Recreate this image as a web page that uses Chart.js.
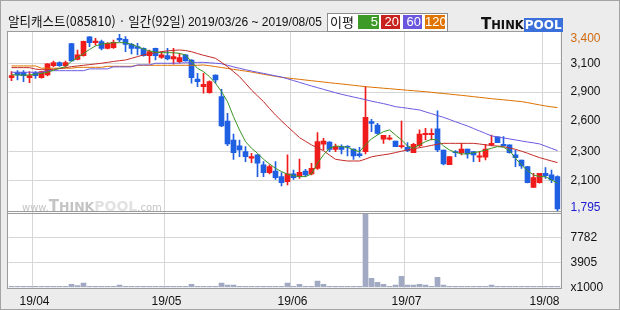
<!DOCTYPE html>
<html><head><meta charset="utf-8">
<script src="https://cdn.jsdelivr.net/npm/chart.js@4.4.1/dist/chart.umd.min.js"></script>
<style>
html,body{margin:0;padding:0;}
body{width:620px;height:310px;background:#ececec;position:relative;overflow:hidden;font-family:"Liberation Sans",Arial,sans-serif;}
#frame{position:absolute;left:0;top:0;width:618px;height:308px;border:1px solid #a4a4a4;pointer-events:none;}
#c{position:absolute;left:0;top:0;}
.ov{position:absolute;white-space:nowrap;}
#title{left:8px;top:12px;font:13px "Noto Sans CJK KR";color:#111;line-height:18px;transform-origin:0 50%;}
#title .d{font:12.5px "Liberation Sans";}
#leg{left:327px;top:13px;width:119px;height:17px;border:1px solid #8c8c8c;background:#fff;}
.lb{position:absolute;top:1px;height:14px;color:#fff;font:13px "Liberation Sans";line-height:14px;text-align:right;padding-right:1px;box-sizing:border-box;}
#logo{left:481px;top:14px;height:15px;font-family:"DejaVu Sans";font-weight:bold;}
#wm{left:22px;top:196px;color:#c4c4c4;font-family:"DejaVu Sans";}
</style></head>
<body>
<canvas id="c" width="620" height="310"></canvas>
<div id="frame"></div>
<div id="title" class="ov">알티캐스트(085810) · 일간(92일) <span class="d">2019/03/26 ~ 2019/08/05</span></div>
<div id="leg" class="ov">
  <span style="position:absolute;left:2px;top:0px;font:13px 'Noto Sans CJK KR';line-height:16px;color:#111;">이평</span>
  <span class="lb" style="left:30px;width:21px;background:#3d9a27;">5</span>
  <span class="lb" style="left:53px;width:19px;background:#c7221d;">20</span>
  <span class="lb" style="left:75px;width:19px;background:#6a57de;">60</span>
  <span class="lb" style="left:97px;width:20px;background:#e07400;">120</span>
</div>
<div id="logo" class="ov"><span style="font-size:15px;color:#111;">T</span><span style="font-size:11.5px;color:#111;">HINK</span><span style="font-size:12px;color:#fff;background:#3b6fd9;padding:0 1px 0 1px;">POOL</span></div>
<div id="wm" class="ov"><span style="font-size:10px;">www.</span><span style="font-size:15px;font-weight:bold;">T</span><span style="font-size:12.5px;font-weight:bold;">HINK</span><span style="font-size:14px;font-weight:bold;color:#e2e2e2;">POOL</span><span style="font-size:10px;">.com</span></div>
<script>
(function(){ const t = document.getElementById('title'); const w = t.getBoundingClientRect().width; if (w > 0) t.style.transform = 'scaleX(' + (314 / w) + ')'; })();
const dates = ['03/26','03/27','03/28','03/29',
 '04/01','04/02','04/03','04/04','04/05','04/08','04/09','04/10','04/11','04/12','04/15','04/16','04/17','04/18','04/19','04/22','04/23','04/24','04/25','04/26','04/29','04/30',
 '05/02','05/03','05/07','05/08','05/09','05/10','05/13','05/14','05/15','05/16','05/17','05/20','05/21','05/22','05/23','05/24','05/27','05/28','05/29','05/30','05/31',
 '06/03','06/04','06/05','06/07','06/10','06/11','06/12','06/13','06/14','06/17','06/18','06/19','06/20','06/21','06/24','06/25','06/26','06/27','06/28',
 '07/01','07/02','07/03','07/04','07/05','07/08','07/09','07/10','07/11','07/12','07/15','07/16','07/17','07/18','07/19','07/22','07/23','07/24','07/25','07/26','07/29','07/30','07/31',
 '08/01','08/02','08/05'];
const opens = [2994,3042,3042,2994,3039,2994,3018,3101,3127,3101,
 3296,3157,3190,3356,3305,3314,3255,3261,3344,3335,
 3290,3270,3255,3190,3255,3175,3190,3160,3136,3196,
 3151,2982,2914,2861,3018,2825,2609,2440,2387,2336,
 2277,2307,2218,2150,2164,2114,2070,2138,2114,2164,
 2138,2188,2402,2422,2357,2381,2381,2360,2316,2336,
 2603,2573,2446,2446,2431,2381,2375,2327,2390,2487,
 2487,2538,2351,2221,2336,2327,2360,2336,2286,2286,
 2399,2467,2402,2396,2307,2262,2203,2019,2061,2144,
 2129,2114];
const highs = [3047,3056,3056,3047,3047,3050,3120,3142,3135,3142,
 3300,3240,3320,3360,3344,3329,3305,3329,3379,3359,
 3299,3299,3260,3240,3258,3225,3255,3255,3210,3200,
 3155,3033,3033,2965,3020,2890,2677,2493,2440,2381,
 2322,2310,2247,2218,2247,2150,2307,2173,2271,2179,
 2233,2505,2455,2425,2404,2396,2390,2362,2375,2914,
 2624,2588,2481,2481,2431,2609,2416,2410,2529,2544,
 2538,2698,2351,2292,2345,2410,2360,2336,2336,2402,
 2484,2467,2470,2396,2351,2262,2205,2144,2144,2194,
 2173,2120];
const lows = [2967,2973,2959,2950,2988,2990,3010,3092,3095,3092,
 3140,3151,3185,3270,3284,3240,3250,3255,3314,3225,
 3204,3196,3185,3122,3151,3166,3151,3113,3122,3140,
 2944,2914,2855,2855,2944,2559,2390,2268,2292,2247,
 2239,2114,2114,2138,2090,2031,2040,2090,2099,2114,
 2129,2179,2351,2336,2336,2316,2298,2268,2286,2316,
 2514,2490,2410,2440,2381,2366,2336,2327,2375,2440,
 2440,2336,2218,2221,2292,2307,2277,2247,2247,2262,
 2387,2416,2387,2322,2203,2188,2058,2016,2055,2099,
 2061,1800];
const closes = [3012,3018,3012,3012,3012,3047,3116,3127,3101,3127,
 3142,3196,3317,3305,3320,3255,3299,3308,3329,3290,
 3255,3255,3190,3225,3190,3196,3160,3181,3172,3142,
 2994,2959,2935,2959,2973,2564,2404,2327,2351,2292,
 2292,2233,2150,2203,2105,2061,2138,2105,2153,2129,
 2188,2425,2431,2357,2381,2357,2375,2298,2301,2642,
 2588,2499,2481,2458,2381,2387,2345,2402,2493,2499,
 2499,2351,2227,2292,2327,2360,2316,2307,2298,2360,
 2410,2416,2390,2327,2283,2209,2061,2105,2144,2123,
 2084,1827];
const volumes = [180,170,190,180,170,190,200,180,170,190,
 510,310,670,190,180,170,190,180,360,190,
 180,170,190,180,170,190,180,170,180,190,
 510,190,180,170,190,670,360,360,190,180,
 170,190,180,170,190,180,670,190,510,180,
 190,980,510,190,180,190,180,170,190,11360,
 1440,820,510,200,360,1750,360,360,510,360,
 200,1600,360,190,180,190,180,170,190,180,
 360,190,180,190,180,170,190,180,190,180,
 190,200];
const ma5 = [3020,3018,3016,3018,3025,3032,3042,3060,3077,3092,
 3140,3172,3208,3245,3276,3293,3299,3305,3305,3305,
 3290,3270,3249,3231,3222,3216,3216,3216,3210,3196,
 3136,3077,3047,3003,2944,2870,2781,2647,2529,2425,
 2366,2322,2268,2227,2188,2159,2135,2123,2114,2114,
 2138,2233,2307,2366,2387,2381,2375,2351,2336,2396,
 2450,2484,2514,2529,2484,2440,2387,2366,2396,2425,
 2446,2440,2387,2351,2330,2316,2316,2327,2336,2351,
 2366,2381,2375,2345,2277,2218,2167,2129,2114,2114,
 2084,2055];
const ma20 = [3083,3083,3083,3083,3070,3065,3065,3068,3075,3083,
 3092,3098,3104,3110,3116,3122,3130,3138,3145,3151,
 3166,3181,3196,3206,3216,3225,3232,3237,3240,3235,
 3225,3208,3193,3180,3166,3130,3092,3048,3003,2944,
 2884,2832,2781,2720,2662,2610,2559,2510,2461,2428,
 2396,2370,2345,2305,2268,2260,2253,2253,2253,2270,
 2290,2300,2308,2316,2328,2340,2351,2361,2371,2381,
 2392,2402,2410,2410,2410,2410,2410,2410,2404,2397,
 2390,2386,2381,2369,2357,2340,2322,2302,2283,2268,
 2253,2239];
const ma60 = [3042,3042,3042,3042,3042,3042,3056,3056,3056,3056,
 3056,3056,3056,3072,3072,3072,3072,3090,3090,3090,
 3090,3107,3107,3107,3122,3122,3122,3122,3124,3126,
 3128,3130,3130,3126,3122,3118,3104,3090,3077,3065,
 3053,3042,3032,3021,3010,3000,2984,2968,2952,2936,
 2920,2905,2890,2875,2860,2846,2834,2822,2810,2798,
 2785,2774,2763,2750,2736,2729,2722,2714,2707,2690,
 2674,2657,2641,2622,2602,2583,2564,2542,2520,2498,
 2476,2467,2458,2449,2440,2431,2422,2414,2405,2385,
 2365,2345];
const ma120 = [3098,3098,3098,3098,3098,3078,3078,3078,3078,3078,
 3078,3086,3086,3086,3086,3086,3095,3095,3095,3095,
 3095,3104,3104,3104,3104,3104,3104,3104,3104,3104,
 3104,3104,3107,3100,3092,3084,3076,3068,3060,3052,
 3044,3034,3024,3015,3006,2997,2991,2985,2979,2973,
 2967,2961,2955,2949,2943,2938,2932,2926,2920,2914,
 2909,2905,2900,2896,2891,2887,2882,2878,2873,2869,
 2864,2858,2853,2848,2842,2837,2831,2825,2819,2813,
 2807,2802,2797,2792,2786,2781,2772,2762,2752,2742,
 2734,2728];
const priceTickValues = [3344, 3120, 2865, 2607, 2340, 2082, 1835];
const priceTickLabels = ['3,400','3,100','2,900','2,600','2,300','2,100','1,795'];
const volTickValues = [0, 3905, 7782];
const volTickLabels = ['x1000','3905','7782'];
const monthTickLabels = ['19/04','19/05','19/06','19/07','19/08'];

const UP = '#f01c1c', DOWN = '#1f5fe2';
const candleColors = closes.map((c, i) => c >= opens[i] ? UP : DOWN);
const monthStarts = dates.map((d, i) => i > 0 && d.slice(0,2) !== dates[i-1].slice(0,2));
const monthIdx = []; monthStarts.forEach((m, i) => { if (m) monthIdx.push(i); });
const GRID = '#d6d6d6', NONE = 'rgba(0,0,0,0)';
const tickFont = {family: 'Liberation Sans', size: 12};

const panelFrame = {
  id: 'panelFrame',
  beforeDraw(chart) {
    const {ctx, chartArea: a} = chart;
    ctx.save(); ctx.fillStyle = '#fff';
    ctx.fillRect(a.left - 1, a.top, a.right - a.left + 1, a.bottom - a.top);
    ctx.restore();
  },
  afterDraw(chart) {
    const {ctx, chartArea: a, scales} = chart;
    ctx.save(); ctx.strokeStyle = '#9c9c9c'; ctx.lineWidth = 1;
    const L = Math.floor(a.left) - 1 + 0.5, R = Math.ceil(a.right) + 0.5;
    [scales.y, scales.yv].forEach(s => {
      const T = Math.floor(s.top) - 0.5, B = Math.ceil(s.bottom) + 0.5;
      ctx.strokeRect(L, T, R - L, B - T);
    });
    ctx.restore();
  }
};

new Chart(document.getElementById('c'), {
  type: 'bar',
  data: {
    labels: dates,
    datasets: [
      {type: 'line', data: ma5, borderColor: '#3b9524', borderWidth: 1, pointRadius: 0, yAxisID: 'y', order: 0},
      {type: 'line', data: ma20, borderColor: '#c42a26', borderWidth: 1, pointRadius: 0, yAxisID: 'y', order: 0},
      {type: 'line', data: ma60, borderColor: '#6a5ae0', borderWidth: 1, pointRadius: 0, yAxisID: 'y', order: 0},
      {type: 'line', data: ma120, borderColor: '#dd7000', borderWidth: 1, pointRadius: 0, yAxisID: 'y', order: 0},
      {data: opens.map((o, i) => [o, closes[i]]), backgroundColor: candleColors, barThickness: 5, grouped: false, minBarLength: 1, yAxisID: 'y', order: 1},
      {data: lows.map((l, i) => [l, highs[i]]), backgroundColor: candleColors, barThickness: 1, grouped: false, yAxisID: 'y', order: 2},
      {data: volumes, backgroundColor: '#a1aac2', barThickness: 5, grouped: false, yAxisID: 'yv', order: 3}
    ]
  },
  options: {
    responsive: false, animation: false,
    layout: {padding: {top: 32, left: 8.5, right: 0, bottom: 0}},
    plugins: {legend: {display: false}, tooltip: {enabled: false}},
    scales: {
      x: {
        type: 'category', offset: true,
        grid: {offset: true, drawTicks: false, color: ctx => (ctx.tick && monthStarts[ctx.index]) ? GRID : NONE},
        border: {display: false},
        ticks: {autoSkip: false, maxRotation: 0, padding: 7, labelOffset: -1, color: '#111', font: tickFont,
          callback: (v, i) => { const k = monthIdx.indexOf(i); return k >= 0 ? monthTickLabels[k] : ''; }},
        afterFit: s => { s.height = 22.5; }
      },
      y: {
        position: 'right', stack: 'panels', stackWeight: 180.5, min: 1795, max: 3400,
        afterBuildTicks: s => { s.ticks = priceTickValues.map(v => ({value: v})); },
        afterFit: s => { s.width = 59.5; },
        grid: {drawTicks: false, color: ctx => (ctx.tick && (ctx.index === 0 || ctx.index === priceTickValues.length - 1)) ? NONE : GRID},
        border: {display: false},
        ticks: {autoSkip: false, padding: 10, font: tickFont,
          color: ctx => ctx.index === 0 ? '#d06a10' : (ctx.index === priceTickValues.length - 1 ? '#1a1ad0' : '#111'),
          callback: v => priceTickLabels[priceTickValues.indexOf(v)]}
      },
      yv: {
        position: 'right', stack: 'panels', stackWeight: 75, min: 0, max: 11660,
        afterBuildTicks: s => { s.ticks = volTickValues.map(v => ({value: v})); },
        afterFit: s => { s.width = 59.5; },
        grid: {drawTicks: false, color: ctx => (ctx.tick && ctx.tick.value === 0) ? NONE : GRID},
        border: {display: false},
        ticks: {autoSkip: false, padding: 10, font: tickFont, color: '#111',
          callback: v => volTickLabels[volTickValues.indexOf(v)]}
      }
    }
  },
  plugins: [panelFrame]
});
</script>
</body></html>
